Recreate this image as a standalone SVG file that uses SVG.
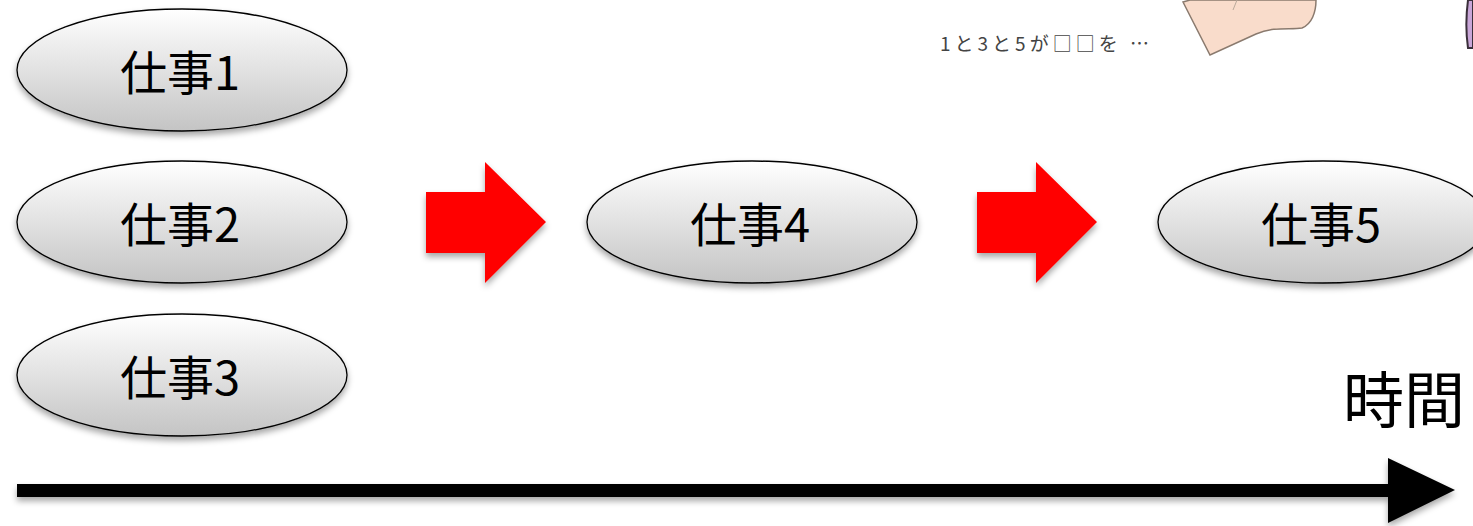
<svg xmlns="http://www.w3.org/2000/svg" width="1473" height="526" viewBox="0 0 1473 526">
  <defs>
    <linearGradient id="oval" x1="0" y1="0" x2="0" y2="1">
      <stop offset="0" stop-color="#ffffff"/>
      <stop offset="1" stop-color="#c4c4c4"/>
    </linearGradient>
    <filter id="shadow" x="-10%" y="-10%" width="120%" height="140%">
      <feDropShadow dx="0" dy="4" stdDeviation="3" flood-color="#000" flood-opacity="0.35"/>
    </filter>
  </defs>
  <style>
    .oval { fill: url(#oval); stroke: #000; stroke-width: 1.3; filter: url(#shadow); }
    .label { font-family: "Noto Sans CJK JP", "Liberation Sans", sans-serif; font-size: 47px; fill: #000; text-anchor: middle; dominant-baseline: central; }
    .step { fill: #ff0000; filter: url(#shadow); }
  </style>
  <rect width="1473" height="526" fill="#fff"/>

  <!-- cropped illustration at top right -->
  <path d="M1183,2 L1210,55 L1256,34 C1275,26 1290,30 1302,28 C1312,24 1316,12 1316,0 L1190,0 Z" fill="#f9dccb" stroke="#8a7a6e" stroke-width="1.5"/>
  <path d="M1237,0 L1233,10" stroke="#b9a89a" stroke-width="1" fill="none"/>
  <path d="M1473,0 L1468,0 C1466,15 1466,34 1468,48 L1473,48 Z" fill="#c9a6d8" stroke="#3a2f3a" stroke-width="2"/>
  <text x="940" y="51" font-family="Noto Sans CJK JP, sans-serif" font-size="19" letter-spacing="4" fill="#444">1と3と5が□□を …</text>

  <g id="job1"><ellipse class="oval" cx="182" cy="70" rx="165" ry="61"/><text class="label" x="180" y="69">仕事1</text></g>
  <g id="job2"><ellipse class="oval" cx="182" cy="222" rx="165" ry="61"/><text class="label" x="180" y="221">仕事2</text></g>
  <g id="job3"><ellipse class="oval" cx="182" cy="375" rx="165" ry="61"/><text class="label" x="180" y="374">仕事3</text></g>
  <g id="job4"><ellipse class="oval" cx="752" cy="222" rx="165" ry="61"/><text class="label" x="750" y="221">仕事4</text></g>
  <g id="job5"><ellipse class="oval" cx="1323" cy="222" rx="165" ry="61"/><text class="label" x="1321" y="221">仕事5</text></g>

  <g id="connectors">
    <polygon class="step" points="426,192 485,192 485,162 546,222 485,283 485,253 426,253"/>
    <polygon class="step" points="977,192 1036,192 1036,162 1097,222 1036,283 1036,253 977,253"/>
  </g>

  <g id="timeline">
    <polygon points="17,484 1388,484 1388,458 1455,490 1388,523 1388,497 17,497" fill="#000" filter="url(#shadow)"/>
    <text x="1404" y="396" font-family="Noto Sans CJK JP, sans-serif" font-size="61" text-anchor="middle" dominant-baseline="central" fill="#000">時間</text>
  </g>
</svg>
